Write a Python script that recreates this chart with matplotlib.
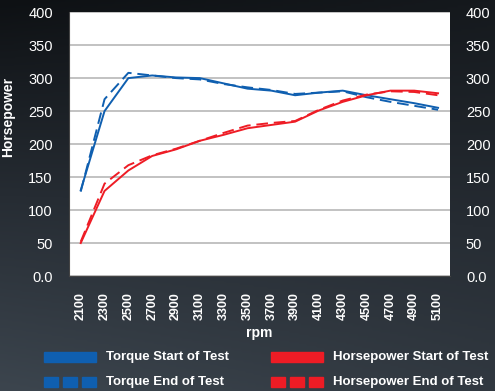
import numpy as np
import matplotlib
matplotlib.use("Agg")
import matplotlib.pyplot as plt
from matplotlib.patches import Rectangle
from matplotlib.colors import LinearSegmentedColormap

rpm = ["2100", "2300", "2500", "2700", "2900", "3100", "3300", "3500",
       "3700", "3900", "4100", "4300", "4500", "4700", "4900", "5100"]
torque_start = [130, 250, 300, 304, 301, 300, 292, 284, 281, 274, 278, 281, 274, 268, 262, 255]
torque_end = [128, 268, 308, 304, 300, 298, 291, 286, 282, 276, 278, 280, 271, 264, 258, 252]
hp_start = [50, 129, 160, 182, 192, 205, 214, 224, 229, 234, 251, 264, 274, 281, 281, 277]
hp_end = [52, 140, 168, 183, 193, 205, 217, 228, 232, 235, 252, 266, 275, 280, 279, 274]
yticks = [0, 50, 100, 150, 200, 250, 300, 350, 400]
ytick_labels = ["0.0", "50", "100", "150", "200", "250", "300", "350", "400"]

BLUE = "#0f5fb0"
RED = "#ee1c25"
plt.rcParams['font.family'] = ['Liberation Sans', 'DejaVu Sans']

fig = plt.figure(figsize=(4.95, 3.91), dpi=100)

# background gradient
bg = fig.add_axes([0, 0, 1, 1])
cmap = LinearSegmentedColormap.from_list("bgc", ["#0e1114", "#262c33", "#3c454e"])
yy, xx = np.mgrid[0:1:200j, 0:1:250j]
val = 0.75 * yy + 0.25 * (1 - xx) * yy + 0.15 * xx * (1 - yy)
bg.imshow(val, cmap=cmap, vmin=0, vmax=1.0, aspect="auto",
          extent=[0, 1, 0, 1], origin="upper")
bg.set_axis_off()

ax = fig.add_axes([0.139, 0.294, 0.770, 0.675])
x = np.arange(len(rpm))
ax.plot(x, torque_start, color=BLUE, lw=1.4)
ax.plot(x, torque_end, color=BLUE, lw=1.4, dashes=(6, 3))
ax.plot(x, hp_start, color=RED, lw=1.4)
ax.plot(x, hp_end, color=RED, lw=1.4, dashes=(6, 3))
ax.set_xlim(-0.5, len(rpm) - 0.5)
ax.set_ylim(0, 400)
ax.set_facecolor("white")
ax.set_yticks(yticks)
ax.set_yticklabels(ytick_labels)
ax.grid(axis="y", color="#bdbdbd", lw=1.3)
ax.set_axisbelow(True)
ax.set_xticks(x)
ax.set_xticklabels(rpm, rotation=90, fontsize=9, fontweight="bold", color="white")
ax.tick_params(axis="x", length=0, pad=11.5)
ax.tick_params(axis="y", length=0, labelsize=10.5, labelcolor="white", pad=11.5,
               labelright=True, right=False)
for s in ["top", "right"]:
    ax.spines[s].set_visible(False)
ax.spines["left"].set_color("#444444")
ax.spines["bottom"].set_color("#444444")
ax.set_xlabel("rpm", fontsize=10, fontweight="bold", color="white", labelpad=4)

fig.text(0.016, 0.70, "Horsepower", rotation=90, ha="center", va="center",
         fontsize=10, fontweight="bold", color="white")

# legend
def leg(x0, y0, color, dashed, label):
    w, h = 52 / 495, 10 / 391
    if not dashed:
        fig.patches.append(Rectangle((x0, y0 - h / 2), w, h, transform=fig.transFigure,
                                     color=color, zorder=5))
    else:
        sw = 14 / 495
        gap = (w - 3 * sw) / 2
        for i in range(3):
            fig.patches.append(Rectangle((x0 + i * (sw + gap), y0 - h / 2), sw, h,
                                         transform=fig.transFigure, color=color, zorder=5))
    fig.text(x0 + 62 / 495, y0, label, ha="left", va="center", fontsize=9.5,
             fontweight="bold", color="white")

leg(44 / 495, 1 - 357 / 391, BLUE, False, "Torque Start of Test")
leg(44 / 495, 1 - 382 / 391, BLUE, True, "Torque End of Test")
leg(271 / 495, 1 - 357 / 391, RED, False, "Horsepower Start of Test")
leg(271 / 495, 1 - 382 / 391, RED, True, "Horsepower End of Test")

fig.savefig("out.png", dpi=100)
